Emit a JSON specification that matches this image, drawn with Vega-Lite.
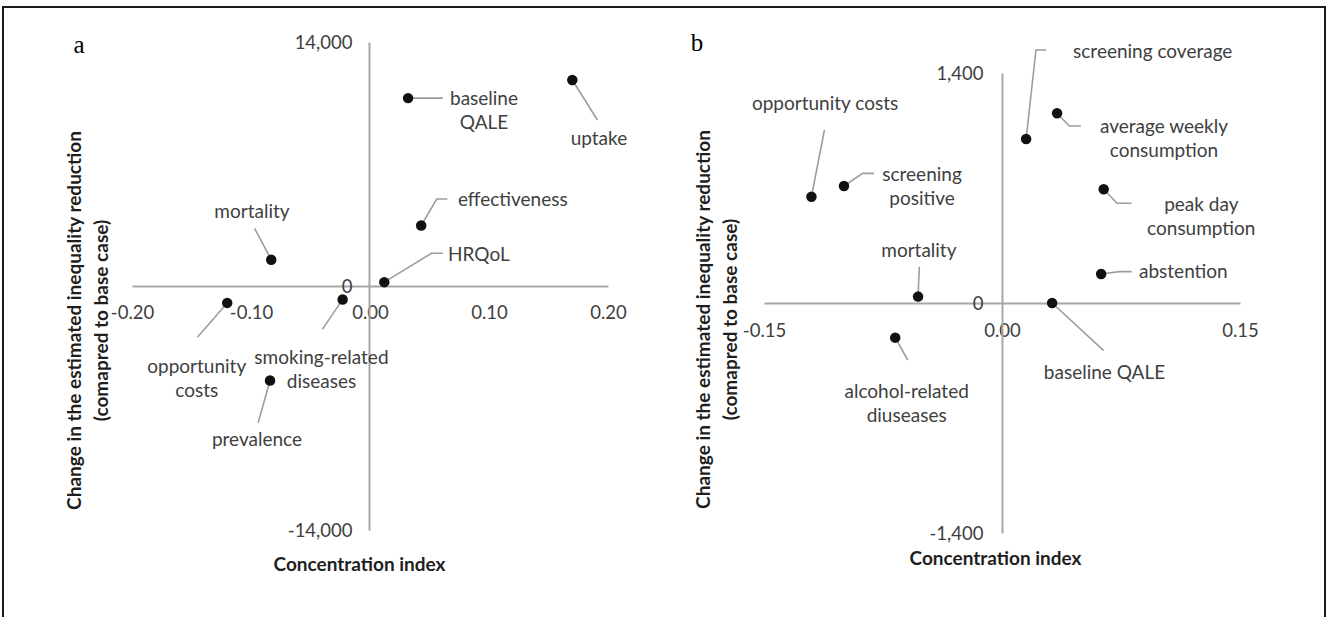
{
  "$schema": "https://vega.github.io/schema/vega-lite/v6.json",
  "width": 1322,
  "height": 620,
  "autosize": {"type": "none"},
  "padding": {"left": 3, "top": 7, "right": 3, "bottom": 0},
  "background": "white",
  "config": {
    "view": {"stroke": "#1a1a1a", "strokeWidth": 2},
    "font": "Lato",
    "axis": {"labelFont": "Lato", "titleFont": "Lato"}
  },
  "datasets": {
    "a_points": [
      {"name": "baseline QALE", "x": 0.032, "y": 10780},
      {"name": "uptake", "x": 0.170, "y": 11820},
      {"name": "effectiveness", "x": 0.043, "y": 3470},
      {"name": "HRQoL", "x": 0.012, "y": 220},
      {"name": "mortality", "x": -0.083, "y": 1510},
      {"name": "opportunity costs", "x": -0.120, "y": -970},
      {"name": "smoking-related diseases", "x": -0.023, "y": -770},
      {"name": "prevalence", "x": -0.084, "y": -5420}
    ],
    "a_labels": [
      {"label": "baseline\nQALE", "x": 0.0958, "y": 10747},
      {"label": "uptake", "x": 0.1924, "y": 8434},
      {"label": "effectiveness", "x": 0.12, "y": 4934},
      {"label": "HRQoL", "x": 0.0915, "y": 1779},
      {"label": "mortality", "x": -0.0992, "y": 4229},
      {"label": "opportunity\ncosts", "x": -0.1456, "y": -4648},
      {"label": "smoking-related\ndiseases", "x": -0.0408, "y": -4121},
      {"label": "prevalence", "x": -0.095, "y": -8836}
    ],
    "a_leaders": [
      {"id": "bq", "ord": 0, "x": 0.032, "y": 10780},
      {"id": "bq", "ord": 1, "x": 0.0613, "y": 10780},
      {"id": "up", "ord": 0, "x": 0.170, "y": 11820},
      {"id": "up", "ord": 1, "x": 0.1911, "y": 9525},
      {"id": "ef", "ord": 0, "x": 0.043, "y": 3470},
      {"id": "ef", "ord": 1, "x": 0.0561, "y": 4992},
      {"id": "ef", "ord": 2, "x": 0.065, "y": 4992},
      {"id": "hr", "ord": 0, "x": 0.012, "y": 220},
      {"id": "hr", "ord": 1, "x": 0.0516, "y": 1876},
      {"id": "hr", "ord": 2, "x": 0.0612, "y": 1876},
      {"id": "mo", "ord": 0, "x": -0.083, "y": 1510},
      {"id": "mo", "ord": 1, "x": -0.097, "y": 3311},
      {"id": "oc", "ord": 0, "x": -0.120, "y": -970},
      {"id": "oc", "ord": 1, "x": -0.145, "y": -2944},
      {"id": "sm", "ord": 0, "x": -0.023, "y": -770},
      {"id": "sm", "ord": 1, "x": -0.040, "y": -2486},
      {"id": "pr", "ord": 0, "x": -0.084, "y": -5420},
      {"id": "pr", "ord": 1, "x": -0.094, "y": -7842}
    ],
    "b_points": [
      {"name": "screening coverage", "x": 0.0152, "y": 998},
      {"name": "average weekly consumption", "x": 0.0347, "y": 1155},
      {"name": "opportunity costs", "x": -0.1201, "y": 647},
      {"name": "screening positive", "x": -0.0996, "y": 712},
      {"name": "peak day consumption", "x": 0.0641, "y": 692},
      {"name": "abstention", "x": 0.0625, "y": 177},
      {"name": "mortality", "x": -0.0529, "y": 39},
      {"name": "baseline QALE", "x": 0.0316, "y": 0},
      {"name": "alcohol-related diuseases", "x": -0.0673, "y": -211}
    ],
    "b_labels": [
      {"label": "screening coverage", "x": 0.095, "y": 1526},
      {"label": "average weekly\nconsumption", "x": 0.1021, "y": 1069},
      {"label": "opportunity costs", "x": -0.1115, "y": 1211},
      {"label": "screening\npositive", "x": -0.0504, "y": 781},
      {"label": "peak day\nconsumption", "x": 0.1256, "y": 595},
      {"label": "abstention", "x": 0.1143, "y": 191},
      {"label": "mortality", "x": -0.0524, "y": 318},
      {"label": "baseline QALE", "x": 0.0646, "y": -424},
      {"label": "alcohol-related\ndiuseases", "x": -0.0601, "y": -540}
    ],
    "b_leaders": [
      {"id": "sc", "ord": 0, "x": 0.0152, "y": 998},
      {"id": "sc", "ord": 1, "x": 0.0214, "y": 1540},
      {"id": "sc", "ord": 2, "x": 0.0279, "y": 1540},
      {"id": "aw", "ord": 0, "x": 0.0347, "y": 1155},
      {"id": "aw", "ord": 1, "x": 0.0424, "y": 1077},
      {"id": "aw", "ord": 2, "x": 0.0497, "y": 1077},
      {"id": "oc", "ord": 0, "x": -0.1201, "y": 647},
      {"id": "oc", "ord": 1, "x": -0.1119, "y": 1053},
      {"id": "sp", "ord": 0, "x": -0.0996, "y": 712},
      {"id": "sp", "ord": 1, "x": -0.0878, "y": 789},
      {"id": "sp", "ord": 2, "x": -0.0806, "y": 789},
      {"id": "pd", "ord": 0, "x": 0.0641, "y": 692},
      {"id": "pd", "ord": 1, "x": 0.0725, "y": 607},
      {"id": "pd", "ord": 2, "x": 0.0817, "y": 607},
      {"id": "ab", "ord": 0, "x": 0.0625, "y": 177},
      {"id": "ab", "ord": 1, "x": 0.0738, "y": 191},
      {"id": "ab", "ord": 2, "x": 0.0817, "y": 191},
      {"id": "mo", "ord": 0, "x": -0.0529, "y": 39},
      {"id": "mo", "ord": 1, "x": -0.0521, "y": 221},
      {"id": "bq", "ord": 0, "x": 0.0316, "y": 0},
      {"id": "bq", "ord": 1, "x": 0.0641, "y": -290},
      {"id": "al", "ord": 0, "x": -0.0673, "y": -211},
      {"id": "al", "ord": 1, "x": -0.0594, "y": -347}
    ],
    "letters_a": [{"t": "a", "x": -0.2445, "y": 13828}],
    "letters_b": [{"t": "b", "x": -0.1922, "y": 1581}]
  },
  "layer": [
    {
      "encoding": {
        "x": {
          "field": "x", "type": "quantitative",
          "scale": {"domain": [-0.2, 0.2], "range": [129, 605], "nice": false, "zero": false},
          "axis": {
            "orient": "bottom", "offset": -341,
            "values": [-0.2, -0.1, 0, 0.1, 0.2], "format": ".2f",
            "labelExpr": "replace(datum.label, '\u2212', '-')",
            "grid": false, "ticks": false, "tickSize": 0,
            "labelPadding": 26, "labelBaseline": "middle", "labelAlign": "center",
            "labelFlush": false, "labelOverlap": false, "labelBound": false,
            "labelFontSize": 18.5, "labelColor": "#404040",
            "domainColor": "#aaa6a4", "domainWidth": 2,
            "title": "Concentration index", "titleX": 356, "titleY": 278,
            "titleBaseline": "middle", "titleAlign": "center",
            "titleFontSize": 19, "titleFontWeight": "bold", "titleColor": "#1e1e1e"
          }
        },
        "y": {
          "field": "y", "type": "quantitative",
          "scale": {"domain": [-14000, 14000], "range": [523, 35], "nice": false, "zero": false},
          "axis": {
            "orient": "left", "offset": -366,
            "values": [-14000, 0, 14000], "format": ",d",
            "labelExpr": "replace(datum.label, '\u2212', '-')",
            "grid": false, "ticks": false, "tickSize": 0,
            "labelPadding": 17, "labelBaseline": "middle", "labelAlign": "right",
            "labelFlush": false, "labelOverlap": false, "labelBound": false,
            "labelFontSize": 18.5, "labelColor": "#404040",
            "domainColor": "#aaa6a4", "domainWidth": 2,
            "title": ["Change in the estimated inequality reduction", "(comapred to base case)"],
            "titleX": -295, "titleY": 313, "titleAngle": 270,
            "titleBaseline": "middle", "titleAlign": "center", "titleLineHeight": 27,
            "titleFontSize": 19, "titleFontWeight": "bold", "titleColor": "#1e1e1e"
          }
        }
      },
      "layer": [
        {
          "data": {"name": "a_leaders"},
          "mark": {"type": "line", "color": "#9d9d9d", "strokeWidth": 1.6},
          "encoding": {"detail": {"field": "id"}, "order": {"field": "ord"}}
        },
        {
          "data": {"name": "a_points"},
          "mark": {"type": "circle", "size": 110, "color": "#111111", "opacity": 1}
        },
        {
          "data": {"name": "a_labels"},
          "mark": {"type": "text", "lineBreak": "\n", "fontSize": 19, "lineHeight": 24, "color": "#404040", "align": "center", "baseline": "middle"},
          "encoding": {"text": {"field": "label"}}
        },
        {
          "data": {"name": "letters_a"},
          "mark": {"type": "text", "font": "Liberation Serif", "fontSize": 25, "color": "#000000", "align": "center", "baseline": "middle"},
          "encoding": {"text": {"field": "t"}}
        }
      ]
    },
    {
      "encoding": {
        "x": {
          "field": "x", "type": "quantitative",
          "scale": {"domain": [-0.15, 0.15], "range": [761, 1237], "nice": false, "zero": false},
          "axis": {
            "orient": "bottom", "offset": -324,
            "values": [-0.15, 0, 0.15], "format": ".2f",
            "labelExpr": "replace(datum.label, '\u2212', '-')",
            "grid": false, "ticks": false, "tickSize": 0,
            "labelPadding": 27, "labelBaseline": "middle", "labelAlign": "center",
            "labelFlush": false, "labelOverlap": false, "labelBound": false,
            "labelFontSize": 18.5, "labelColor": "#404040",
            "domainColor": "#aaa6a4", "domainWidth": 2,
            "title": "Concentration index", "titleX": 992, "titleY": 255,
            "titleBaseline": "middle", "titleAlign": "center",
            "titleFontSize": 19, "titleFontWeight": "bold", "titleColor": "#1e1e1e"
          }
        },
        "y": {
          "field": "y", "type": "quantitative",
          "scale": {"domain": [-1400, 1400], "range": [526, 66], "nice": false, "zero": false},
          "axis": {
            "orient": "left", "offset": -999,
            "values": [-1400, 0, 1400], "format": ",d",
            "labelExpr": "replace(datum.label, '\u2212', '-')",
            "grid": false, "ticks": false, "tickSize": 0,
            "labelPadding": 19, "labelBaseline": "middle", "labelAlign": "right",
            "labelFlush": false, "labelOverlap": false, "labelBound": false,
            "labelFontSize": 18.5, "labelColor": "#404040",
            "domainColor": "#aaa6a4", "domainWidth": 2,
            "title": ["Change in the estimated inequality reduction", "(comapred to base case)"],
            "titleX": -299, "titleY": 312, "titleAngle": 270,
            "titleBaseline": "middle", "titleAlign": "center", "titleLineHeight": 27,
            "titleFontSize": 19, "titleFontWeight": "bold", "titleColor": "#1e1e1e"
          }
        }
      },
      "layer": [
        {
          "data": {"name": "b_leaders"},
          "mark": {"type": "line", "color": "#9d9d9d", "strokeWidth": 1.6},
          "encoding": {"detail": {"field": "id"}, "order": {"field": "ord"}}
        },
        {
          "data": {"name": "b_points"},
          "mark": {"type": "circle", "size": 110, "color": "#111111", "opacity": 1}
        },
        {
          "data": {"name": "b_labels"},
          "mark": {"type": "text", "lineBreak": "\n", "fontSize": 19, "lineHeight": 24, "color": "#404040", "align": "center", "baseline": "middle"},
          "encoding": {"text": {"field": "label"}}
        },
        {
          "data": {"name": "letters_b"},
          "mark": {"type": "text", "font": "Liberation Serif", "fontSize": 25, "color": "#000000", "align": "center", "baseline": "middle"},
          "encoding": {"text": {"field": "t"}}
        }
      ]
    }
  ],
  "resolve": {
    "scale": {"x": "independent", "y": "independent"},
    "axis": {"x": "independent", "y": "independent"}
  }
}
